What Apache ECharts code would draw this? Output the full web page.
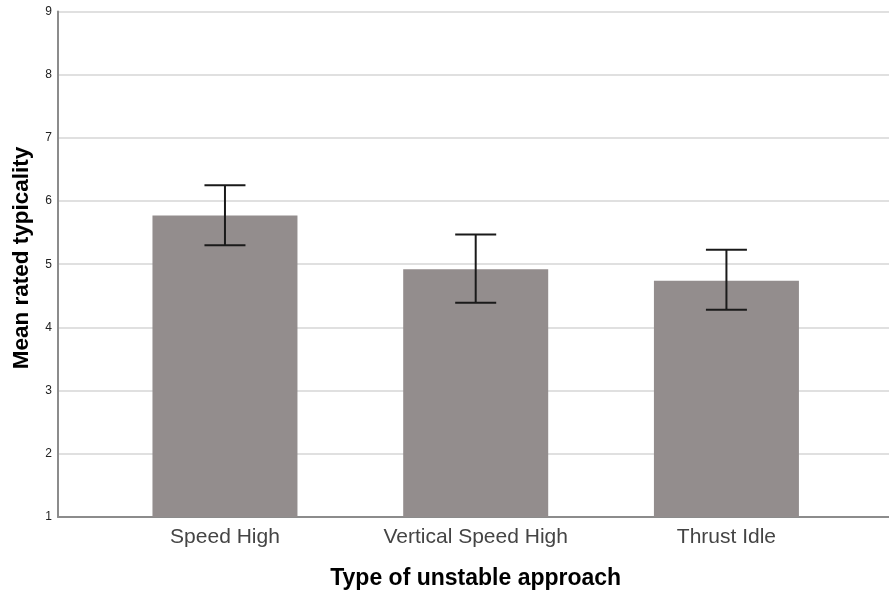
<!DOCTYPE html>
<html>
<head>
<meta charset="utf-8">
<script src="https://cdn.jsdelivr.net/npm/echarts@6/dist/echarts.min.js"></script>
<style>html,body{margin:0;padding:0;background:#fff}#c{width:889px;height:593px}</style>
</head>
<body>
<div id="c"></div>
<script>
const categories = ['Speed High', 'Vertical Speed High', 'Thrust Idle'];
const means = [5.77, 4.92, 4.74];
const ciLow = [5.30, 4.39, 4.28];
const ciHigh = [6.25, 5.47, 5.23];
const yMin = 1, yMax = 9, yStep = 1;
const xTitle = 'Type of unstable approach';
const yTitle = 'Mean rated typicality';

const chart = echarts.init(document.getElementById('c'), null, {renderer: 'canvas'});
const font = '"Liberation Sans", Arial, sans-serif';
const gTop = 11.4, gBottom = 76;
chart.setOption({
  animation: false,
  backgroundColor: '#fff',
  grid: [
    {left: 58, right: 0, top: gTop, bottom: gBottom, containLabel: false, outerBoundsMode: 'none'},
    {left: 99.6, right: 37.2, top: gTop, bottom: gBottom, containLabel: false, outerBoundsMode: 'none'}
  ],
  xAxis: [
    {gridIndex: 0, type: 'category', data: categories,
     axisLine: {show: true, lineStyle: {color: '#8c8c8c', width: 2}},
     axisTick: {show: false}, axisLabel: {show: false}, splitLine: {show: false}},
    {gridIndex: 1, type: 'category', data: categories,
     axisLine: {show: false}, axisTick: {show: false},
     axisLabel: {show: true, margin: 10, fontFamily: font, fontSize: 21, color: '#444'},
     name: xTitle, nameLocation: 'middle', nameGap: 50,
     nameTextStyle: {fontFamily: font, fontSize: 23, fontWeight: 'bold', color: '#000'}}
  ],
  yAxis: [
    {gridIndex: 0, type: 'value', min: yMin, max: yMax, interval: yStep,
     axisLine: {show: true, lineStyle: {color: '#8c8c8c', width: 2}},
     axisTick: {show: false},
     axisLabel: {margin: 6, fontFamily: font, fontSize: 12, color: '#222'},
     splitLine: {show: true, lineStyle: {color: '#d6d6d6', width: 1.5}}},
    {gridIndex: 1, type: 'value', min: yMin, max: yMax, interval: yStep, show: false,
     splitLine: {show: false}}
  ],
  graphic: [{
    type: 'text', rotation: Math.PI / 2,
    x: 10, y: 258,
    style: {text: yTitle, font: 'bold 22.5px ' + font, fill: '#000',
            textAlign: 'center', textVerticalAlign: 'top'}
  }],
  series: [
    {type: 'bar', xAxisIndex: 1, yAxisIndex: 1, data: means, barWidth: 145, z: 2,
     itemStyle: {color: '#938d8d'}},
    {type: 'custom', xAxisIndex: 1, yAxisIndex: 1, z: 5,
     data: categories.map((c, i) => [i, ciLow[i], ciHigh[i]]),
     renderItem: function (params, api) {
       const x = api.value(0);
       const lo = api.coord([x, api.value(1)]);
       const hi = api.coord([x, api.value(2)]);
       const w = 20.5;
       const st = {stroke: '#1a1a1a', lineWidth: 2};
       return {type: 'group', children: [
         {type: 'line', shape: {x1: lo[0], y1: lo[1], x2: hi[0], y2: hi[1]}, style: st},
         {type: 'line', shape: {x1: lo[0] - w, y1: lo[1], x2: lo[0] + w, y2: lo[1]}, style: st},
         {type: 'line', shape: {x1: hi[0] - w, y1: hi[1], x2: hi[0] + w, y2: hi[1]}, style: st}
       ]};
     }}
  ]
});
</script>
</body>
</html>
